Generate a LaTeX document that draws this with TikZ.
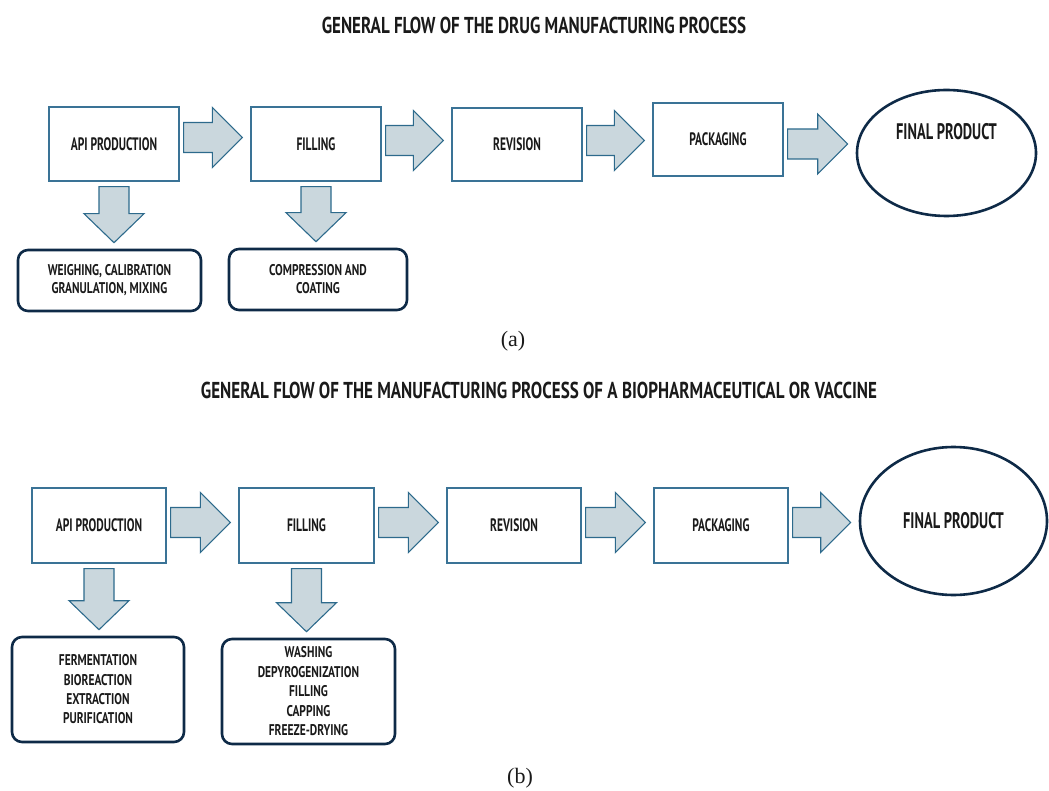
\documentclass[tikz,border=0pt]{standalone}
\usepackage{fontspec}
\setmainfont{PT Sans}[FakeStretch=0.64]
\newfontfamily\widefont{PT Sans}[FakeStretch=0.74]
\newfontfamily\captionfont{Liberation Serif}
\usetikzlibrary{calc,shapes.geometric}

\definecolor{boxline}{HTML}{3A7396}
\definecolor{arrowfill}{HTML}{CAD7DD}
\definecolor{arrowline}{HTML}{2D6A8C}
\definecolor{navy}{HTML}{0E2A47}
\definecolor{inktext}{HTML}{1A1A1A}

% fat arrow to the right, #1 = lift of the arrow above the box centre
\newcommand{\rightblock}[3][3]{%
  \draw[blockarrow] let \p1=(#2.east), \p2=(#3.west) in
    (\x1+4pt,\y1+#1pt+15pt) -- (\x2-38pt,\y1+#1pt+15pt) -- (\x2-38pt,\y1+#1pt+30pt)
    -- (\x2-8pt,\y1+#1pt) -- (\x2-38pt,\y1+#1pt-30pt) -- (\x2-38pt,\y1+#1pt-15pt)
    -- (\x1+4pt,\y1+#1pt-15pt) -- cycle;}

% fat arrow downwards
\newcommand{\downblock}[2]{%
  \draw[blockarrow] let \p1=(#1.south), \p2=(#2.north) in
    (\x1-15pt,\y1-5pt) -- (\x1-15pt,\y2+35pt) -- (\x1-30pt,\y2+35pt)
    -- (\x1,\y2+6pt) -- (\x1+30pt,\y2+35pt) -- (\x1+15pt,\y2+35pt)
    -- (\x1+15pt,\y1-5pt) -- cycle;}

\begin{document}
\begin{tikzpicture}[
  x=1pt, y=-1pt,
  every node/.style={text=inktext},
  procbox/.style={draw=boxline, line width=1.2pt, fill=white,
    minimum width=130, minimum height=74, font=\bfseries\fontsize{18}{21}\selectfont},
  subbox/.style={draw=navy, line width=2.6pt, rounded corners=10pt, align=center},
  finalbox/.style={ellipse, draw=navy, line width=2.6pt},
  blockarrow/.style={draw=arrowline, line width=1.1pt, fill=arrowfill, line join=miter},
  titletext/.style={font=\widefont\bfseries\fontsize{23}{26}\selectfont},
  finaltext/.style={font=\bfseries\fontsize{22.5}{25}\selectfont},
  captiontext/.style={font=\captionfont\fontsize{22}{25}\selectfont}
]
\useasboundingbox (0,0) rectangle (1049,791);

% (a) drug
\node[titletext] (titleA) at (534,25) {GENERAL FLOW OF THE DRUG MANUFACTURING PROCESS};

\node[procbox] (apiA) at (114,144) {API PRODUCTION};
\node[procbox] (fillA) at (316,144) {FILLING};
\node[procbox, minimum height=73] (revA) at (517,144.5) {REVISION};
\node[procbox, minimum height=73] (packA) at (718,139.5) {PACKAGING};
\node[finalbox, minimum width=179, minimum height=126] (finalA) at (946.5,153) {};
\node[finaltext] (finalAtext) at ($(finalA.center)+(0,-21)$) {FINAL PRODUCT};

\node[subbox, minimum width=183, minimum height=61,
  font=\widefont\bfseries\fontsize{15.5}{18}\selectfont] (subA1) at (109.5,280.5)
  {WEIGHING, CALIBRATION\\GRANULATION, MIXING};
\node[subbox, minimum width=178, minimum height=61,
  font=\widefont\bfseries\fontsize{15.5}{18}\selectfont] (subA2) at (318,279.5)
  {COMPRESSION AND\\COATING};

\rightblock[6.5]{apiA}{fillA}
\rightblock[3.5]{fillA}{revA}
\rightblock[4]{revA}{packA}
\rightblock[-4.5]{packA}{finalA}
\downblock{apiA}{subA1}
\downblock{fillA}{subA2}

\node[captiontext] (capA) at (513,341) {(a)};

% (b) biopharmaceutical
\node[titletext] (titleB) at (539,390)
  {GENERAL FLOW OF THE MANUFACTURING PROCESS OF A BIOPHARMACEUTICAL OR VACCINE};

\node[procbox, minimum width=134, minimum height=75] (apiB) at (99,525.5) {API PRODUCTION};
\node[procbox, minimum width=135, minimum height=75] (fillB) at (306.5,525.5) {FILLING};
\node[procbox, minimum width=134, minimum height=75] (revB) at (514,525.5) {REVISION};
\node[procbox, minimum width=134, minimum height=75] (packB) at (721,525.5) {PACKAGING};
\node[finalbox, minimum width=187, minimum height=148] (finalB) at (953.5,521) {};
\node[finaltext] (finalBtext) at (finalB.center) {FINAL PRODUCT};

\node[subbox, minimum width=172, minimum height=105,
  font=\widefont\bfseries\fontsize{15.5}{19.3}\selectfont] (subB1) at (98,689.5)
  {FERMENTATION\\BIOREACTION\\EXTRACTION\\PURIFICATION};
\node[subbox, minimum width=173, minimum height=105,
  font=\widefont\bfseries\fontsize{15.5}{19.5}\selectfont] (subB2) at (308.5,691.5)
  {WASHING\\DEPYROGENIZATION\\FILLING\\CAPPING\\FREEZE-DRYING};

\rightblock{apiB}{fillB}
\rightblock{fillB}{revB}
\rightblock{revB}{packB}
\rightblock{packB}{finalB}
\downblock{apiB}{subB1}
\downblock{fillB}{subB2}

\node[captiontext] (capB) at (520,778) {(b)};

\end{tikzpicture}
\end{document}
